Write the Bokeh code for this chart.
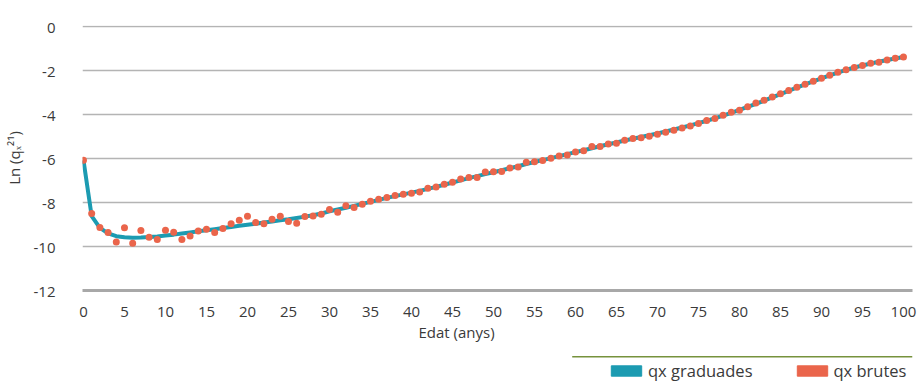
from bokeh.plotting import figure
from bokeh.models import (FixedTicker, Range1d, Legend, LegendItem, Title,
                          BoxAnnotation)
from bokeh.layouts import column
from bokeh.embed import file_html
from bokeh.resources import INLINE

# ---------------- data ----------------
ages = list(range(0, 101))

qx_brutes = [
    -6.08, -8.50, -9.14, -9.36, -9.79, -9.15, -9.85, -9.27, -9.58, -9.68,
    -9.26, -9.35, -9.68, -9.52, -9.29, -9.21, -9.36, -9.18, -8.97, -8.80,
    -8.62, -8.91, -8.97, -8.76, -8.62, -8.86, -8.94, -8.64, -8.61, -8.53,
    -8.32, -8.44, -8.15, -8.23, -8.08, -7.94, -7.85, -7.77, -7.68, -7.62,
    -7.58, -7.52, -7.35, -7.29, -7.17, -7.08, -6.93, -6.86, -6.86, -6.61,
    -6.60, -6.59, -6.43, -6.38, -6.17, -6.15, -6.09, -5.99, -5.88, -5.84,
    -5.70, -5.65, -5.45, -5.45, -5.34, -5.30, -5.17, -5.09, -5.05, -4.99,
    -4.90, -4.80, -4.71, -4.61, -4.52, -4.41, -4.27, -4.18, -4.03, -3.90,
    -3.80, -3.64, -3.47, -3.35, -3.20, -3.05, -2.91, -2.76, -2.62, -2.49,
    -2.35, -2.21, -2.08, -1.96, -1.86, -1.77, -1.67, -1.62, -1.52, -1.44,
    -1.38,
]

qx_graduades = [
    -6.08, -8.62, -9.15, -9.40, -9.53, -9.58, -9.60, -9.59, -9.57, -9.54,
    -9.50, -9.46, -9.41, -9.36, -9.31, -9.26, -9.21, -9.16, -9.11, -9.06,
    -9.01, -8.96, -8.91, -8.86, -8.81, -8.76, -8.70, -8.64, -8.58, -8.50,
    -8.40, -8.32, -8.24, -8.15, -8.06, -7.97, -7.88, -7.79, -7.71, -7.63,
    -7.55, -7.47, -7.38, -7.29, -7.19, -7.09, -6.99, -6.89, -6.80, -6.71,
    -6.62, -6.53, -6.44, -6.35, -6.25, -6.16, -6.07, -5.98, -5.89, -5.80,
    -5.71, -5.62, -5.53, -5.44, -5.35, -5.27, -5.18, -5.10, -5.02, -4.94,
    -4.86, -4.77, -4.68, -4.59, -4.49, -4.39, -4.28, -4.17, -4.05, -3.92,
    -3.79, -3.65, -3.51, -3.37, -3.22, -3.07, -2.92, -2.77, -2.63, -2.49,
    -2.35, -2.22, -2.09, -1.97, -1.86, -1.77, -1.68, -1.60, -1.52, -1.45,
    -1.38,
]

x_ticks = list(range(0, 101, 5))
y_ticks = [0, -2, -4, -6, -8, -10, -12]
y_tick_labels = ["0", "-2", "-4", "-6", "-8", "-10", "-12"]
series_names = ["qx graduades", "qx brutes"]
x_title = "Edat (anys)"
y_title = "Ln (qₓ²¹)"

# ---------------- style ----------------
TEAL = "#1c9bb1"
ORANGE = "#ea654b"
GREEN = "#76923c"
TEXT = "#3a3a3a"
FONT = "Open Sans"
NAN = float("nan")


def right_pad(s):
    # pad with figure / punctuation spaces so that centred labels line up right
    pad = ""
    if not s.startswith("-"):
        pad += "\u2008"
    digits = len(s.lstrip("-"))
    pad += "\u2007" * (2 - digits)
    return pad + s


xr = Range1d(-0.12, 101.1)

p = figure(width=917, height=355,
           x_range=xr, y_range=Range1d(-12, 0.05),
           output_backend="svg", toolbar_location=None,
           min_border_left=80, min_border_right=5,
           min_border_top=25, min_border_bottom=65)
p.outline_line_color = None
p.background_fill_color = "white"
p.border_fill_color = "white"

p.xgrid.grid_line_color = None
p.ygrid.ticker = FixedTicker(ticks=y_ticks)
p.ygrid.grid_line_color = "#b4b4b4"
p.ygrid.grid_line_width = 1.5

xa = p.xaxis[0]
xa.ticker = FixedTicker(ticks=x_ticks)
xa.axis_line_color = "#a8a8a8"
xa.axis_line_width = 3
xa.major_tick_line_color = None
xa.minor_tick_line_color = None
xa.major_label_standoff = 10
xa.major_label_text_font = FONT
xa.major_label_text_font_size = "15px"
xa.major_label_text_color = TEXT

ya = p.yaxis[0]
ya.ticker = FixedTicker(ticks=y_ticks)
ya.major_label_overrides = {t: right_pad(s) for t, s in zip(y_ticks, y_tick_labels)}
ya.axis_line_color = None
ya.major_tick_line_color = None
ya.minor_tick_line_color = None
ya.major_label_standoff = 21
ya.major_label_text_font = FONT
ya.major_label_text_font_size = "15px"
ya.major_label_text_color = TEXT
ya.axis_label = y_title
ya.axis_label_text_font = FONT
ya.axis_label_text_font_style = "normal"
ya.axis_label_text_font_size = "15px"
ya.axis_label_text_color = TEXT
ya.axis_label_standoff = 7

p.line(ages, qx_graduades, line_width=4, line_color=TEAL)
p.scatter(ages, qx_brutes, size=7, fill_color=ORANGE, line_color=None)

# x axis title (left of centre, as in the reference)
p.add_layout(Title(text=x_title, align="left", offset=336, standoff=0,
                   text_font=FONT, text_font_size="15px",
                   text_font_style="normal", text_color=TEXT), "below")

# ---------------- legend strip ----------------
strip = figure(width=917, height=29, x_range=xr, y_range=Range1d(0, 1),
               output_backend="svg", toolbar_location=None,
               x_axis_type=None, y_axis_type=None,
               min_border_left=80, min_border_right=5,
               min_border_top=0, min_border_bottom=0)
strip.grid.grid_line_color = None
strip.outline_line_color = None
strip.background_fill_color = "white"
strip.border_fill_color = "white"

# green separator line above the legend
strip.add_layout(BoxAnnotation(left=59.6, right=101.1, top=28.4, bottom=27.0,
                               top_units="screen", bottom_units="screen",
                               fill_color=GREEN, fill_alpha=1, line_color=None))

# legend proxies (filled boxes, as in the reference legend)
r1 = strip.quad(left=[NAN], right=[NAN], top=[NAN], bottom=[NAN],
                fill_color=TEAL, line_color=TEAL)
r2 = strip.quad(left=[NAN], right=[NAN], top=[NAN], bottom=[NAN],
                fill_color=ORANGE, line_color=ORANGE)

legend = Legend(items=[LegendItem(label=series_names[0], renderers=[r1]),
                       LegendItem(label=series_names[1], renderers=[r2])],
                orientation="horizontal", location=(525, 2),
                glyph_width=38, glyph_height=13, label_standoff=3, spacing=40,
                padding=0, margin=0, border_line_color=None,
                background_fill_alpha=0,
                label_text_font=FONT, label_text_font_size="16.5px",
                label_text_color=TEXT)
strip.add_layout(legend)

layout = column(p, strip, spacing=0)
open("out.html", "w").write(file_html(layout, INLINE))
